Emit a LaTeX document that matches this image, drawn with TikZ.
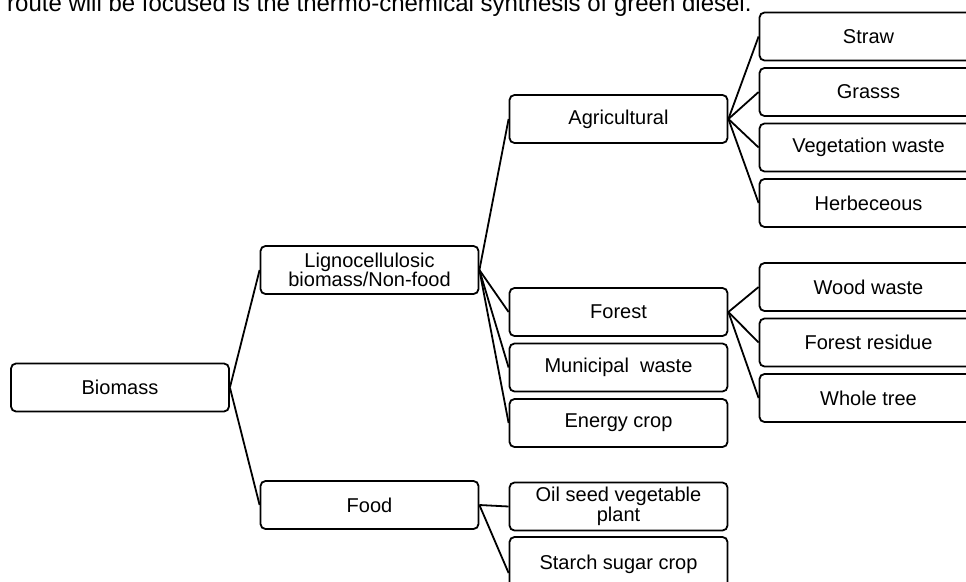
\documentclass[tikz,border=0pt]{standalone}
\usepackage{fontspec}
\setmainfont{Liberation Sans}
\usetikzlibrary{positioning}

\begin{document}
\begin{tikzpicture}[x=1pt,y=-1pt,node distance=55.5pt,on grid,
		box/.style={draw,line width=1.8pt,rounded corners=5pt,minimum width=218pt,minimum height=48pt,
			inner sep=0pt,align=center,font=\fontsize{20}{19.5}\selectfont}]
			\path[use as bounding box,clip] (0,0) rectangle (966,581);
			\node[anchor=base west,inner sep=0pt,font=\fontsize{24}{24}\selectfont] (txt) at (7,11.5)
				{route will be focused is the thermo-chemical synthesis of green diesel.};
			\node[box] (bio) 					at (120,387.5)	{Biomass};
			\node[box] (ligno) 					at (369.5,270)	{Lignocellulosic\\biomass/Non-food};
			\node[box] (food) 					at (369.5,505)	{Food};
			\node[box] (agri) 					at (618.5,119)	{Agricultural};
			\node[box] (forest) 				at (618.5,312)	{Forest};
			\node[box] (muni) [below=of forest]		{Municipal\ \ waste};
			\node[box] (energy) [below=of muni]		{Energy crop};
			\node[box] (oil) 					at (618.5,506.5)	{Oil seed vegetable\\plant};
			\node[box,minimum height=60pt,text depth=10pt] (starch) at (618.5,567)	{Starch sugar crop};
			\node[box] (straw) 					at (868.5,36.5)	{Straw};
			\node[box] (grass) [below=of straw]		{Grasss};
			\node[box] (veg) [below=of grass]		{Vegetation waste};
			\node[box] (herb) [below=of veg]		{Herbeceous};
			\node[box] (wood) 					at (868.5,287)	{Wood waste};
			\node[box] (residue) [below=of wood]	{Forest residue};
			\node[box] (whole) [below=of residue]	{Whole tree};
			\path[line width=1.8pt]
						(bio.east) edge (ligno.west)
							edge (food.west)
						(ligno.east) edge (agri.west)
							edge (forest.west)
							edge (muni.west)
							edge (energy.west)
						(agri.east) edge (straw.west)
							edge (grass.west)
							edge (veg.west)
							edge (herb.west)
						(forest.east) edge (wood.west)
							edge (residue.west)
							edge (whole.west)
						(food.east) edge (oil.west)
							edge ([yshift=-6pt]starch.west);
	\end{tikzpicture}
\end{document}
